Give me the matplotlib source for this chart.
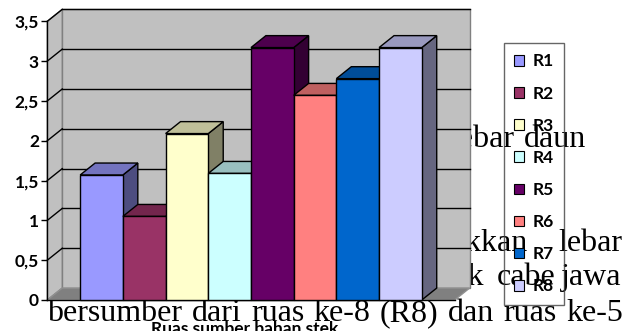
import matplotlib
matplotlib.use("Agg")
import matplotlib.pyplot as plt
from matplotlib.patches import Polygon, Patch
from matplotlib.colors import to_rgb

# ---------------------------------------------------------------------------
# Data
# ---------------------------------------------------------------------------

series_labels = ["R1", "R2", "R3", "R4", "R5", "R6", "R7", "R8"]
leaf_width = [1.57, 1.05, 2.09, 1.59, 3.17, 2.57, 2.78, 3.17]
bar_colors = ["#9999FF", "#993366", "#FFFFCC", "#CCFFFF",
              "#660066", "#FF8080", "#0066CC", "#CCCCFF"]
y_ticks = [0, 0.5, 1, 1.5, 2, 2.5, 3, 3.5]
y_tick_labels = ["0", "0,5", "1", "1,5", "2", "2,5", "3", "3,5"]
x_title = "Ruas sumber bahan stek"

# running paragraph text that sits behind the chart: (word, x px, baseline px, align)
paragraph = [
    ("lebar", 514, 147, "right"), ("daun", 524, 147, "left"),
    ("menunjukkan", 528, 251, "right"), ("lebar", 622, 251, "right"),
    ("stek", 484, 285, "right"), ("cabe", 497, 285, "left"), ("jawa", 621, 285, "right"),
]
# last line is justified between the page margins
last_line = "bersumber dari ruas ke-8 (R8) dan ruas ke-5".split()
MARGIN_L, MARGIN_R, LAST_BASE = 47.5, 623, 321

W, H = 637, 331
XL, XR = -0.77, 8.77   # front plane extent in bar units
YMAX = 3.5
DX, DY = 0.35, 0.15    # 3-D depth offset (bar units, value units)
BODY_FONT = dict(family="Liberation Serif", fontsize=23, color="black", zorder=-1)


def shade(color, f):
    return tuple(v * f for v in to_rgb(color))


def main():
    fig = plt.figure(figsize=(W / 100, H / 100), dpi=100)
    fig.patch.set_facecolor("white")

    for word, x, y, ha in paragraph:
        fig.text(x / W, (H - y) / H, word, ha=ha, va="baseline", **BODY_FONT)

    renderer = fig.canvas.get_renderer()
    words = [fig.text(0, (H - LAST_BASE) / H, w, ha="left", va="baseline", **BODY_FONT)
             for w in last_line]
    widths = [t.get_window_extent(renderer).width for t in words]
    gap = (MARGIN_R - MARGIN_L - sum(widths)) / (len(words) - 1)
    x = MARGIN_L
    for t, w in zip(words, widths):
        t.set_x(x / W)
        x += w + gap

    ax = fig.add_axes([47.3 / W, 31 / H, (XR - XL) * 42.7 / W, 278.7 / H])
    ax.set_xlim(XL, XR)
    ax.set_ylim(0, YMAX)
    ax.patch.set_visible(False)
    for s in ["top", "right", "bottom"]:
        ax.spines[s].set_visible(False)
    ax.spines["left"].set_color("black")
    ax.spines["left"].set_linewidth(1)
    ax.spines["left"].set_zorder(2)
    ax.set_xticks([])
    ax.set_yticks(y_ticks, y_tick_labels)
    ax.tick_params(axis="y", direction="out", length=4, width=1, pad=2, labelsize=12.5)
    for lbl in ax.get_yticklabels():
        lbl.set_fontfamily("Lato")
        lbl.set_fontweight("bold")

    # walls and floor
    back = Polygon([(XL + DX, DY), (XR + DX, DY), (XR + DX, YMAX + DY), (XL + DX, YMAX + DY)],
                   closed=True, fc="#C0C0C0", ec="#808080", lw=1, zorder=1, clip_on=False)
    side = Polygon([(XL, 0), (XL + DX, DY), (XL + DX, YMAX + DY), (XL, YMAX)],
                   closed=True, fc="#C0C0C0", ec="#808080", lw=1, zorder=1, clip_on=False)
    floor = Polygon([(XL, 0), (XR, 0), (XR + DX, DY), (XL + DX, DY)],
                    closed=True, fc="#808080", ec="#909090", lw=1, zorder=1.2, clip_on=False)
    for p in (back, side, floor):
        ax.add_patch(p)

    # gridlines on back and side walls
    for v in y_ticks[1:]:
        ax.plot([XL + DX, XR + DX], [v + DY, v + DY], color="black", lw=1,
                zorder=1.5, clip_on=False)
        ax.plot([XL, XL + DX], [v, v + DY], color="black", lw=1,
                zorder=1.5, clip_on=False)
    ax.plot([XL, XR], [0, 0], color="black", lw=1, zorder=1.6, clip_on=False)

    # 3-D columns, left to right so nearer faces overlap
    for i, (v, c) in enumerate(zip(leaf_width, bar_colors)):
        z = 3 + 3 * i
        x0, x1 = i, i + 1
        ax.add_patch(Polygon([(x1, 0), (x1 + DX, DY), (x1 + DX, v + DY), (x1, v)],
                             closed=True, fc=shade(c, 0.5), ec="black", lw=1,
                             zorder=z, clip_on=False))
        ax.add_patch(Polygon([(x0, v), (x1, v), (x1 + DX, v + DY), (x0 + DX, v + DY)],
                             closed=True, fc=shade(c, 0.75), ec="black", lw=1,
                             zorder=z + 1, clip_on=False))
        ax.bar(x0, v, width=1, align="edge", color=c, edgecolor="black", lw=1,
               zorder=z + 2, clip_on=False)

    handles = [Patch(facecolor=c, edgecolor="black", lw=0.8) for c in bar_colors]
    leg = fig.legend(handles, series_labels, loc="upper left",
                     bbox_to_anchor=(504 / W, (H - 43) / H), borderaxespad=0,
                     frameon=True, fancybox=False, facecolor="none", edgecolor="#404040",
                     prop={"family": "Lato", "weight": "bold", "size": 12.5},
                     handlelength=0.55, handleheight=0.55, handletextpad=0.5,
                     labelspacing=0.93, borderpad=0.6)
    leg.get_frame().set_linewidth(1)

    fig.text(245 / W, (H - 334) / H, x_title, ha="center", va="baseline",
             family="Lato", fontweight="bold", fontsize=12.5, zorder=6)

    fig.savefig("out.png", dpi=100)
    plt.close(fig)


if __name__ == "__main__":
    main()
